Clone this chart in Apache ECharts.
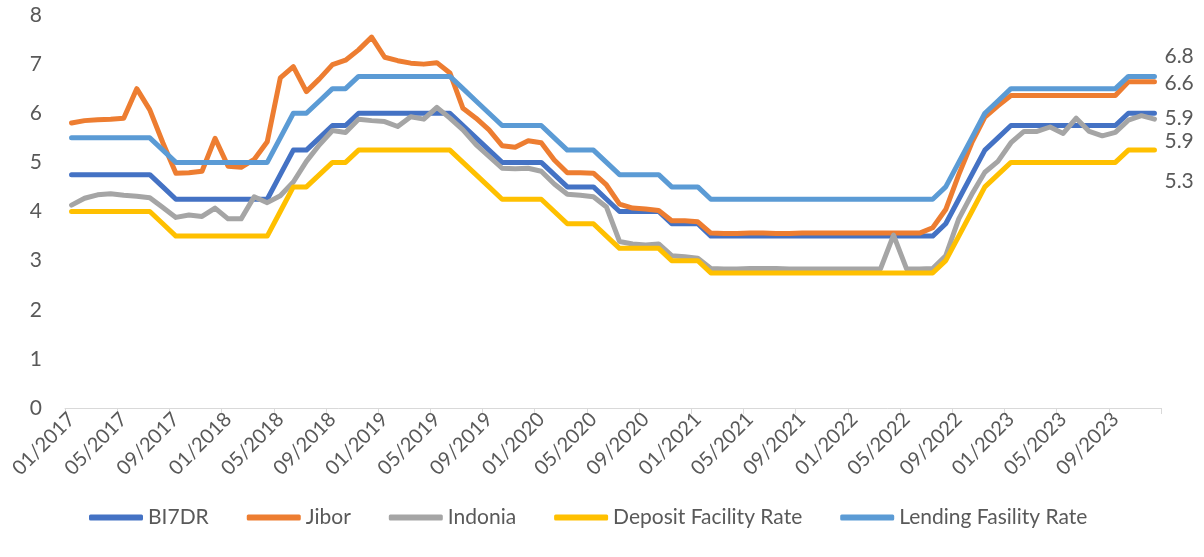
<!DOCTYPE html>
<html>
<head>
<meta charset="utf-8">
<title>Policy and money-market rates</title>
<script src="https://cdn.jsdelivr.net/npm/echarts@6/dist/echarts.min.js"></script>
<style>
  html, body { margin: 0; padding: 0; background: #ffffff; }
  #chart { width: 1204px; height: 557px; }
</style>
</head>
<body>
<div id="chart"></div>
<script>
// Monthly observations, 01/2017 - 12/2023
const months = [
  '01/2017','02/2017','03/2017','04/2017','05/2017','06/2017','07/2017','08/2017','09/2017','10/2017','11/2017','12/2017',
  '01/2018','02/2018','03/2018','04/2018','05/2018','06/2018','07/2018','08/2018','09/2018','10/2018','11/2018','12/2018',
  '01/2019','02/2019','03/2019','04/2019','05/2019','06/2019','07/2019','08/2019','09/2019','10/2019','11/2019','12/2019',
  '01/2020','02/2020','03/2020','04/2020','05/2020','06/2020','07/2020','08/2020','09/2020','10/2020','11/2020','12/2020',
  '01/2021','02/2021','03/2021','04/2021','05/2021','06/2021','07/2021','08/2021','09/2021','10/2021','11/2021','12/2021',
  '01/2022','02/2022','03/2022','04/2022','05/2022','06/2022','07/2022','08/2022','09/2022','10/2022','11/2022','12/2022',
  '01/2023','02/2023','03/2023','04/2023','05/2023','06/2023','07/2023','08/2023','09/2023','10/2023','11/2023','12/2023'
];

const bi7dr = [
  4.75,4.75,4.75,4.75,4.75,4.75,4.75,4.50,4.25,4.25,4.25,4.25,
  4.25,4.25,4.25,4.25,4.75,5.25,5.25,5.50,5.75,5.75,6.00,6.00,
  6.00,6.00,6.00,6.00,6.00,6.00,5.75,5.50,5.25,5.00,5.00,5.00,
  5.00,4.75,4.50,4.50,4.50,4.25,4.00,4.00,4.00,4.00,3.75,3.75,
  3.75,3.50,3.50,3.50,3.50,3.50,3.50,3.50,3.50,3.50,3.50,3.50,
  3.50,3.50,3.50,3.50,3.50,3.50,3.50,3.75,4.25,4.75,5.25,5.50,
  5.75,5.75,5.75,5.75,5.75,5.75,5.75,5.75,5.75,6.00,6.00,6.00
];

const jibor = [
  5.80,5.85,5.87,5.88,5.90,6.50,6.07,5.40,4.78,4.79,4.82,5.49,
  4.92,4.90,5.06,5.42,6.72,6.95,6.44,6.70,6.99,7.08,7.29,7.55,
  7.14,7.07,7.02,7.00,7.03,6.82,6.10,5.90,5.66,5.34,5.31,5.44,
  5.40,5.05,4.79,4.79,4.78,4.54,4.15,4.07,4.05,4.02,3.81,3.81,
  3.79,3.56,3.55,3.55,3.56,3.56,3.55,3.55,3.56,3.56,3.56,3.56,
  3.56,3.56,3.56,3.56,3.56,3.56,3.67,4.04,4.75,5.40,5.92,6.15,
  6.36,6.36,6.36,6.36,6.36,6.36,6.36,6.36,6.36,6.64,6.64,6.64
];

const indonia = [
  4.13,4.27,4.34,4.36,4.33,4.31,4.28,4.08,3.88,3.93,3.90,4.07,
  3.85,3.85,4.30,4.18,4.32,4.60,5.02,5.36,5.65,5.61,5.88,5.85,
  5.83,5.73,5.93,5.88,6.12,5.90,5.66,5.36,5.12,4.88,4.87,4.88,
  4.82,4.56,4.35,4.33,4.30,4.09,3.39,3.34,3.32,3.34,3.10,3.08,
  3.05,2.84,2.83,2.83,2.84,2.84,2.84,2.83,2.83,2.83,2.83,2.83,
  2.83,2.83,2.83,3.52,2.83,2.83,2.84,3.10,3.85,4.35,4.80,5.02,
  5.40,5.63,5.63,5.72,5.59,5.90,5.63,5.54,5.61,5.86,5.95,5.88
];

const depositFacility = [
  4.00,4.00,4.00,4.00,4.00,4.00,4.00,3.75,3.50,3.50,3.50,3.50,
  3.50,3.50,3.50,3.50,4.00,4.50,4.50,4.75,5.00,5.00,5.25,5.25,
  5.25,5.25,5.25,5.25,5.25,5.25,5.00,4.75,4.50,4.25,4.25,4.25,
  4.25,4.00,3.75,3.75,3.75,3.50,3.25,3.25,3.25,3.25,3.00,3.00,
  3.00,2.75,2.75,2.75,2.75,2.75,2.75,2.75,2.75,2.75,2.75,2.75,
  2.75,2.75,2.75,2.75,2.75,2.75,2.75,3.00,3.50,4.00,4.50,4.75,
  5.00,5.00,5.00,5.00,5.00,5.00,5.00,5.00,5.00,5.25,5.25,5.25
];

const lendingFacility = [
  5.50,5.50,5.50,5.50,5.50,5.50,5.50,5.25,5.00,5.00,5.00,5.00,
  5.00,5.00,5.00,5.00,5.50,6.00,6.00,6.25,6.50,6.50,6.75,6.75,
  6.75,6.75,6.75,6.75,6.75,6.75,6.50,6.25,6.00,5.75,5.75,5.75,
  5.75,5.50,5.25,5.25,5.25,5.00,4.75,4.75,4.75,4.75,4.50,4.50,
  4.50,4.25,4.25,4.25,4.25,4.25,4.25,4.25,4.25,4.25,4.25,4.25,
  4.25,4.25,4.25,4.25,4.25,4.25,4.25,4.50,5.00,5.50,6.00,6.25,
  6.50,6.50,6.50,6.50,6.50,6.50,6.50,6.50,6.50,6.75,6.75,6.75
];

// Latest-value annotations shown at the right end of each line
const endLabels = {
  'BI7DR': '5.9',
  'Jibor': '6.6',
  'Indonia': '5.9',
  'Deposit Facility Rate': '5.3',
  'Lending Fasility Rate': '6.8'
};

const yTicks = { min: 0, max: 8, step: 1 };

const FONT = 'Lato, "Open Sans", sans-serif';
const TEXT = '#595959';

function lineSeries(name, data, color, labelDy) {
  return {
    name: name,
    type: 'line',
    data: data,
    symbol: 'none',
    smooth: false,
    color: color,
    lineStyle: { width: 5, color: color, cap: 'round', join: 'round' },
    endLabel: {
      show: true,
      formatter: () => endLabels[name],
      color: TEXT,
      fontFamily: FONT,
      fontSize: 21,
      distance: 10,
      offset: [0, labelDy]
    },
    emphasis: { disabled: true }
  };
}

const chart = echarts.init(document.getElementById('chart'), null, { renderer: 'canvas' });

chart.setOption({
  animation: false,
  backgroundColor: '#ffffff',
  textStyle: { fontFamily: FONT },
  grid: { left: 65, right: 43, top: 15, bottom: 149 },
  legend: {
    left: 84,
    top: 502,
    icon: 'roundRect',
    itemWidth: 54,
    itemHeight: 6,
    itemGap: 38,
    itemStyle: { borderWidth: 0 },
    textStyle: { color: TEXT, fontSize: 21, fontFamily: FONT },
    data: ['BI7DR', 'Jibor', 'Indonia', 'Deposit Facility Rate', 'Lending Fasility Rate']
  },
  xAxis: {
    type: 'category',
    data: months,
    boundaryGap: true,
    axisLine: { show: true, lineStyle: { color: '#D9D9D9', width: 1 } },
    axisTick: { show: true, interval: 3, alignWithLabel: false, length: 6, lineStyle: { color: '#D9D9D9' } },
    axisLabel: { interval: 3, rotate: 45, color: TEXT, fontSize: 20, fontFamily: FONT, margin: 8 },
    splitLine: { show: false }
  },
  yAxis: {
    type: 'value',
    min: yTicks.min,
    max: yTicks.max,
    interval: yTicks.step,
    axisLine: { show: false },
    axisTick: { show: false },
    splitLine: { show: false },
    axisLabel: { color: TEXT, fontSize: 21, fontFamily: FONT, margin: 23 }
  },
  series: [
    lineSeries('BI7DR', bi7dr, '#4472C4', 28),
    lineSeries('Jibor', jibor, '#ED7D31', 1),
    lineSeries('Indonia', indonia, '#A5A5A5', -1),
    lineSeries('Deposit Facility Rate', depositFacility, '#FFC000', 31),
    lineSeries('Lending Fasility Rate', lendingFacility, '#5B9BD5', -20)
  ]
});
</script>
</body>
</html>
